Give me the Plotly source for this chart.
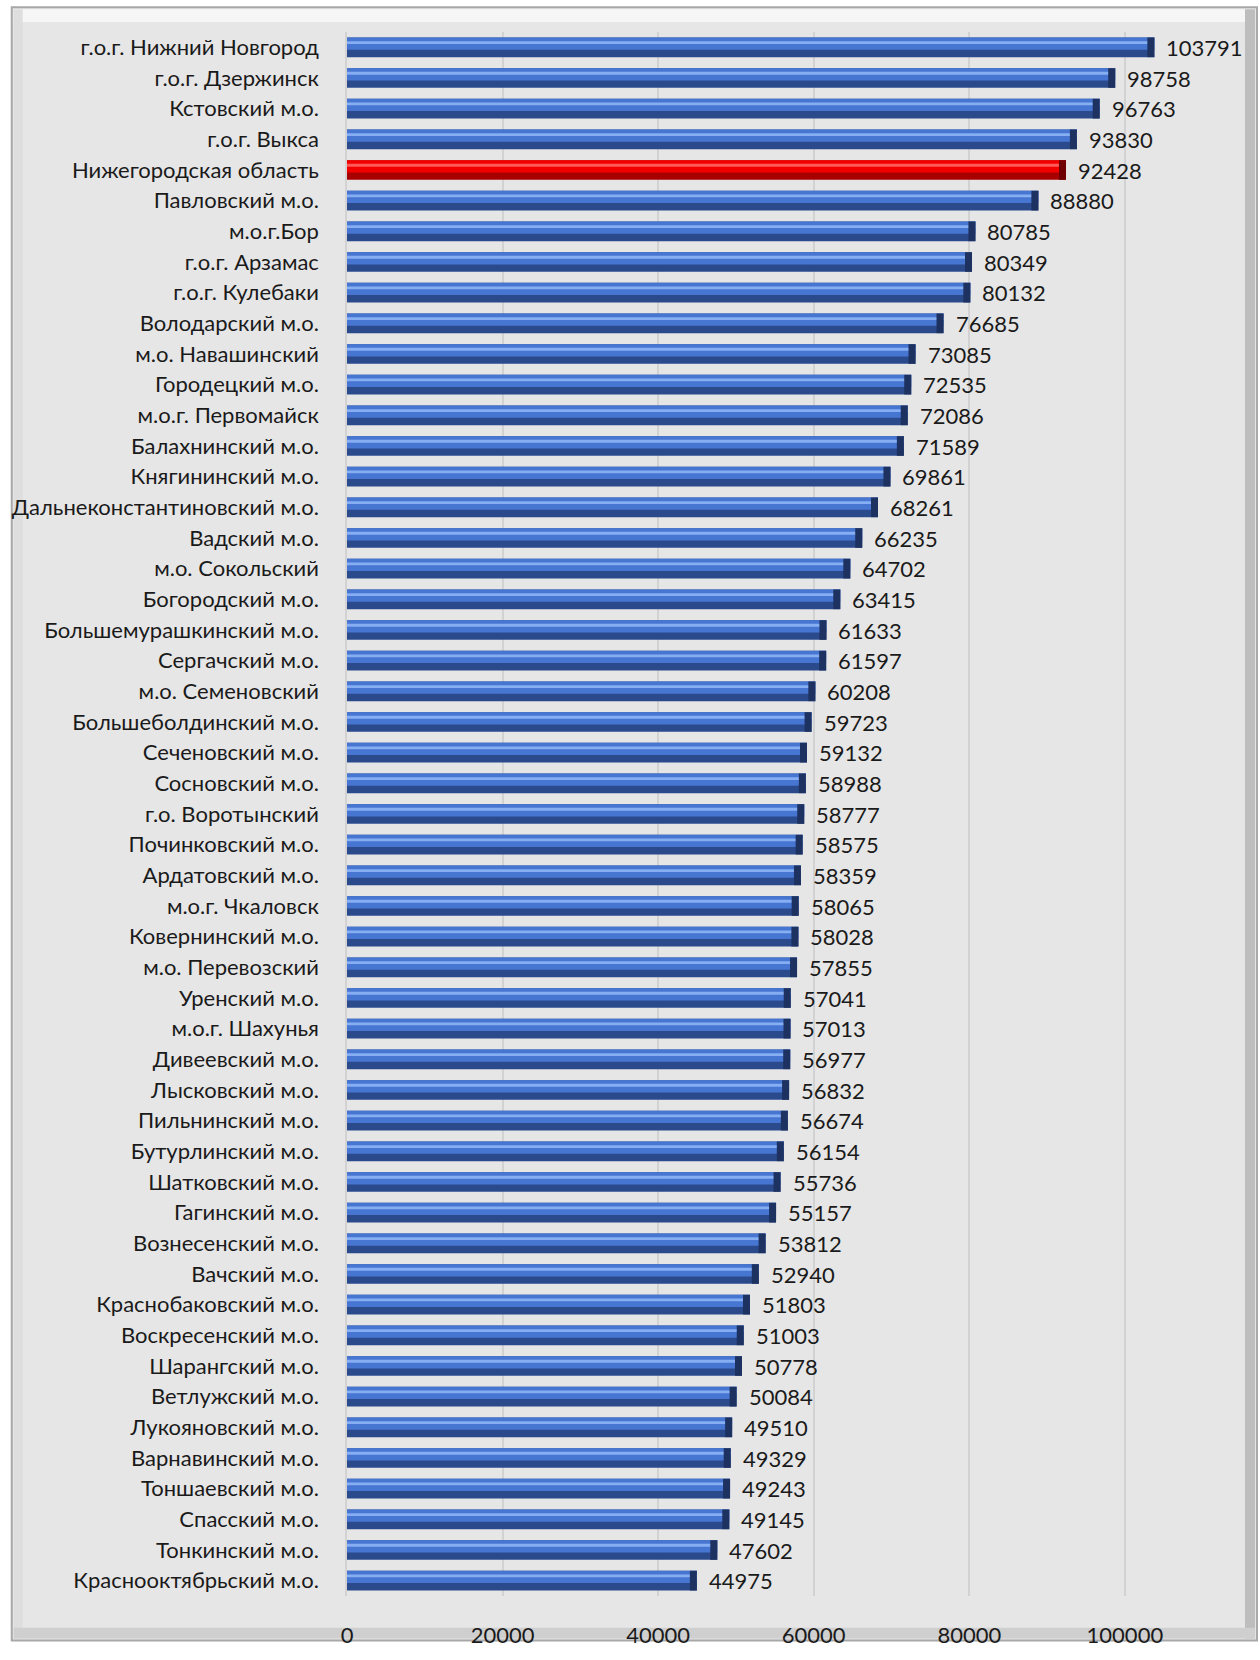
import plotly.graph_objects as go

categories = [
    "г.о.г. Нижний Новгород", "г.о.г. Дзержинск", "Кстовский м.о.", "г.о.г. Выкса",
    "Нижегородская область", "Павловский м.о.", "м.о.г.Бор", "г.о.г. Арзамас",
    "г.о.г. Кулебаки", "Володарский м.о.", "м.о. Навашинский", "Городецкий м.о.",
    "м.о.г. Первомайск", "Балахнинский м.о.", "Княгининский м.о.",
    "Дальнеконстантиновский м.о.", "Вадский м.о.", "м.о. Сокольский",
    "Богородский м.о.", "Большемурашкинский м.о.", "Сергачский м.о.",
    "м.о. Семеновский", "Большеболдинский м.о.", "Сеченовский м.о.",
    "Сосновский м.о.", "г.о. Воротынский", "Починковский м.о.", "Ардатовский м.о.",
    "м.о.г. Чкаловск", "Ковернинский м.о.", "м.о. Перевозский", "Уренский м.о.",
    "м.о.г. Шахунья", "Дивеевский м.о.", "Лысковский м.о.", "Пильнинский м.о.",
    "Бутурлинский м.о.", "Шатковский м.о.", "Гагинский м.о.", "Вознесенский м.о.",
    "Вачский м.о.", "Краснобаковский м.о.", "Воскресенский м.о.", "Шарангский м.о.",
    "Ветлужский м.о.", "Лукояновский м.о.", "Варнавинский м.о.", "Тоншаевский м.о.",
    "Спасский м.о.", "Тонкинский м.о.", "Краснооктябрьский м.о.",
]
values = [
    103791, 98758, 96763, 93830, 92428, 88880, 80785, 80349, 80132, 76685,
    73085, 72535, 72086, 71589, 69861, 68261, 66235, 64702, 63415, 61633,
    61597, 60208, 59723, 59132, 58988, 58777, 58575, 58359, 58065, 58028,
    57855, 57041, 57013, 56977, 56832, 56674, 56154, 55736, 55157, 53812,
    52940, 51803, 51003, 50778, 50084, 49510, 49329, 49243, 49145, 47602,
    44975,
]
highlight_category = "Нижегородская область"
tick_values = [0, 20000, 40000, 60000, 80000, 100000]

is_hl = [c == highlight_category for c in categories]
base_colors = ["#a80000" if h else "#2b4a8c" for h in is_hl]
mid_colors = ["#f20000" if h else "#4676d2" for h in is_hl]
top_colors = ["#ff5a5a" if h else "#86aef2" for h in is_hl]
cap_colors = ["#6e0000" if h else "#1d3261" for h in is_hl]

CAP = 900  # width of the darker bevelled bar end, in axis units

FONT = "Lato"

fig = go.Figure()
fig.add_trace(go.Bar(y=categories, x=values, orientation="h", marker=dict(color=base_colors, line=dict(width=0)),
                     width=0.64, offset=-0.32, hoverinfo="skip", showlegend=False))
fig.add_trace(go.Bar(y=categories, x=values, orientation="h", marker=dict(color=mid_colors, line=dict(width=0)),
                     width=0.40, offset=-0.32, hoverinfo="skip", showlegend=False))
fig.add_trace(go.Bar(y=categories, x=values, orientation="h", marker=dict(color=top_colors, line=dict(width=0)),
                     width=0.09, offset=-0.20, hoverinfo="skip", showlegend=False))
fig.add_trace(go.Bar(y=categories, x=[CAP] * len(values), base=[v - CAP for v in values], orientation="h",
                     marker=dict(color=cap_colors, line=dict(width=0)),
                     width=0.64, offset=-0.32, hoverinfo="skip", showlegend=False))

for c, v in zip(categories, values):
    fig.add_annotation(x=v, y=c, text=str(v), showarrow=False, xanchor="left", yanchor="middle",
                       xshift=10, font=dict(family=FONT, size=22, color="#1a1a1a"))

W, H = 1260, 1660
ml, mr, mt, mb = 345, 20, 32, 47
pw, ph = W - ml - mr, H - mt - mb

def px_x(p):
    return (p - ml) / pw

def px_y(p):
    return (H - mb - p) / ph

def frame_rect(x0, y0, x1, y1, fill, line=None):
    fig.add_shape(type="rect", xref="paper", yref="paper", layer="below",
                  x0=px_x(x0), x1=px_x(x1), y0=px_y(y1), y1=px_y(y0),
                  fillcolor=fill, line=line or dict(width=0))

# chart-area frame with a bevel
frame_rect(9, 7, 1257, 1658, "#e6e6e6", dict(color="#a8a8a8", width=2))
frame_rect(11, 9, 1255, 22, "#f6f6f6")          # top highlight
frame_rect(11, 9, 20, 1656, "#dedede")          # left edge
frame_rect(1245, 9, 1255, 1656, "#bdbdbd")      # right shade
frame_rect(11, 1645, 1255, 1656, "#cfcfcf")     # bottom shade

n = len(categories)
fig.update_layout(
    width=W, height=H,
    margin=dict(l=ml, r=mr, t=mt, b=mb),
    paper_bgcolor="white", plot_bgcolor="rgba(0,0,0,0)",
    barmode="overlay",
    font=dict(family=FONT, size=22, color="#1a1a1a"),
    xaxis=dict(range=[0, 114800], tickvals=tick_values, ticktext=[str(t) for t in tick_values],
               showgrid=True, gridcolor="#d2d2d2", gridwidth=1.5, zeroline=False,
               showline=False, ticks="", ticklabelstandoff=24,
               tickfont=dict(family=FONT, size=22, color="#1a1a1a")),
    yaxis=dict(type="category", categoryorder="array", categoryarray=categories,
               range=[n - 0.5, -0.5], autorange=False,
               showgrid=False, showline=True, linecolor="#d2d2d2", linewidth=1.5,
               ticks="", ticklabelstandoff=22, tickfont=dict(family=FONT, size=22, color="#1a1a1a")),
)

post = (
    "document.documentElement.style.margin='0';"
    "document.documentElement.style.overflow='hidden';"
    "document.body.style.margin='0';"
    "document.body.style.overflow='hidden';"
)
fig.write_html("out.html", config={"displayModeBar": False}, post_script=post)
